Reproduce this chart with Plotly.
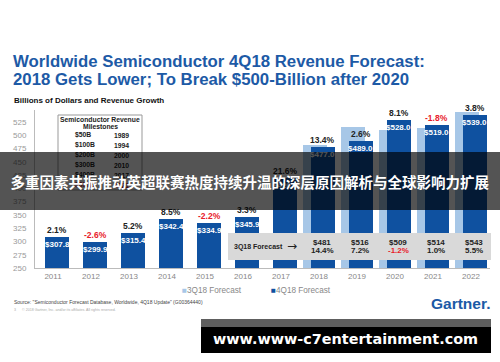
import plotly.graph_objects as go

years = [2011, 2012, 2013, 2014, 2015, 2016, 2017, 2018, 2019, 2020, 2021, 2022]
rev_4q18 = [307.8, 299.9, 315.4, 342.4, 334.9, 345.9, 420.4, 477.0, 489.0, 528.0, 519.0, 539.0]
growth_4q18 = ["2.1%", "-2.6%", "5.2%", "8.5%", "-2.2%", "3.3%", "21.6%", "13.4%", "2.6%", "8.1%", "-1.8%", "3.8%"]
years_3q18 = [2018, 2019, 2020, 2021, 2022]
rev_3q18 = [481, 516, 509, 514, 543]
growth_3q18 = ["14.4%", "7.2%", "-1.2%", "1.0%", "5.5%"]
milestones = [("$50B", "1989"), ("$100B", "1994"), ("$200B", "2000"), ("$300B", "2010"), ("$400B", "2017"), ("$500B", "2021")]
yticks = [250, 275, 300, 325, 350, 375, 400, 425, 450, 475, 500, 525]

DARK = "#0f51a0"
LIGHT = "#a7c7e7"
RED = "#e8202a"
TBLUE = "#1d5aa6"
FONT = "Liberation Sans, Arial, sans-serif"

W, H = 500, 362
L, R, T, B = 35, 490, 110, 268

def xp(px):
    return (px - L) / (R - L)

def yp(py):
    return (B - py) / (B - T)

def text_at(px, py, text, size, color, xanchor="center", bold=True, family=FONT, **kw):
    d = dict(x=xp(px), y=yp(py), xref="paper", yref="paper", xanchor=xanchor, yanchor="middle",
             showarrow=False, text=text,
             font=dict(family=family, size=size, color=color, weight="bold" if bold else "normal"))
    d.update(kw)
    return d

fig = go.Figure()
fig.add_trace(go.Bar(x=years_3q18, y=rev_3q18, base=0, offset=-0.42, width=0.63,
                     marker=dict(color=LIGHT, line=dict(width=0)), showlegend=False, hoverinfo="skip"))
fig.add_trace(go.Bar(x=years, y=rev_4q18, offset=-0.21, width=0.63,
                     marker=dict(color=DARK, line=dict(width=0)), showlegend=False, hoverinfo="skip"))

ann = []
shapes = []

# value + growth labels
for yr, v, g in zip(years, rev_4q18, growth_4q18):
    ann.append(dict(x=yr + 0.105, y=v, xref="x", yref="y", xanchor="center", yanchor="middle",
                    text="$%.1f" % v, showarrow=False,
                    yshift=-7.5, font=dict(family=FONT, size=8, color="white", weight="bold")))
    ann.append(dict(x=yr + 0.105, y=v, xref="x", yref="y", xanchor="center", yanchor="middle",
                    text=g, showarrow=False,
                    yshift=7, font=dict(family=FONT, size=8.5,
                                        color=RED if g.startswith("-") else "#222", weight="bold")))

# milestones box
shapes.append(dict(type="rect", xref="paper", yref="paper", x0=xp(58), x1=xp(142), y0=yp(190), y1=yp(115),
                   fillcolor="white", line=dict(color="#999", width=1), layer="above"))
for j, line in enumerate(["Semiconductor Revenue", "Milestones"]):
    ann.append(text_at(100, 119.5 + 7 * j, line, 6.8, "#222"))
for i, (a, b) in enumerate(milestones):
    col = "#222" if i < 5 else "#c0202a"
    ann.append(text_at(73, 135 + 10 * i, a, 6.8, col, xanchor="left"))
    ann.append(text_at(112, 135 + 10 * i, b, 6.8, col, xanchor="left"))

# 3Q18 forecast box
shapes.append(dict(type="rect", xref="paper", yref="paper", x0=xp(228), x1=xp(491), y0=yp(260), y1=yp(233),
                   fillcolor="#d9d9d9", line=dict(width=0), layer="above"))
ann.append(text_at(232, 246.5, "3Q18 Forecast", 7, "#222", xanchor="left"))
ann.append(text_at(291.5, 246, "\u2192", 12, "#222", bold=False, family="DejaVu Sans, sans-serif"))
for yr, v, g in zip(years_3q18, rev_3q18, growth_3q18):
    gc = RED if g.startswith("-") else "#222"
    ann.append(dict(x=yr + 0.08, y=yp(242.5), xref="x", yref="paper", xanchor="center", yanchor="middle",
                    showarrow=False, text="$%d" % v,
                    font=dict(family=FONT, size=8, color="#222", weight="bold")))
    ann.append(dict(x=yr + 0.08, y=yp(250.5), xref="x", yref="paper", xanchor="center", yanchor="middle",
                    showarrow=False, text=g,
                    font=dict(family=FONT, size=8, color=gc, weight="bold")))

# title and subtitle
for j, line in enumerate(["Worldwide Semiconductor 4Q18 Revenue Forecast:",
                          "2018 Gets Lower; To Break $500-Billion after 2020"]):
    ann.append(text_at(11, 62 + 17 * j, line, 16.8, TBLUE, xanchor="left"))
ann.append(text_at(12, 101, "Billions of Dollars and Revenue Growth", 8, "#111", xanchor="left"))

# legend
ann.append(text_at(180, 290, "<span style='color:%s'>\u25a0</span>3Q18 Forecast" % LIGHT, 8.2, "#888",
                   xanchor="left", bold=False))
ann.append(text_at(269, 290, "<span style='color:%s'>\u25a0</span>4Q18 Forecast" % DARK, 8.2, "#888",
                   xanchor="left", bold=False))

# source / copyright
ann.append(text_at(12, 302, 'Source: "Semiconductor Forecast Database, Worldwide, 4Q18 Update" (G00364440)',
                   5, "#444", xanchor="left", bold=False))
ann.append(text_at(12, 309.5, "3      \u00a9 2018 Gartner, Inc. and/or its affiliates. All rights reserved.",
                   3.6, "#aaa", xanchor="left", bold=False))

# Gartner logo
ann.append(text_at(492, 303, "Gartner.", 15.5, "#1b5aa6", xanchor="right"))

# watermark box
shapes.append(dict(type="rect", xref="paper", yref="paper", x0=xp(201), x1=xp(491), y0=yp(327), y1=yp(319),
                   fillcolor="#5e5e5e", line=dict(width=0), layer="above"))
shapes.append(dict(type="rect", xref="paper", yref="paper", x0=xp(201), x1=xp(491), y0=yp(353), y1=yp(327),
                   fillcolor="black", line=dict(width=0), layer="above"))
ann.append(text_at(345, 338.5, "www.www-c7entertainment.com", 14.4, "white",
                   family="DejaVu Sans, Verdana, sans-serif"))

# translucent banner on top
ann.append(text_at(250, 181, "多重因素共振推动英超联赛热度持续升温的深层原因解析与全球影响力扩展", 14.5, "white",
                   family="Noto Sans CJK SC, sans-serif",
                   width=500, height=58, borderpad=0, borderwidth=0, bgcolor="rgba(0,0,0,0.67)"))

fig.update_layout(
    template="none",
    width=W, height=H,
    margin=dict(l=L, r=W - R, t=T, b=H - B, pad=0, autoexpand=False),
    paper_bgcolor="white", plot_bgcolor="white",
    barmode="overlay", bargap=0,
    font=dict(family=FONT),
    xaxis=dict(range=[2010.526, 2022.5], tickmode="array", tickvals=years, ticktext=[str(y) for y in years],
               showgrid=False, zeroline=False, showline=True, linecolor="#bbb", linewidth=1, automargin=False,
               ticks="", tickfont=dict(size=8, color="#888"), fixedrange=True),
    yaxis=dict(range=[250, 250 + (B - T) / 0.531], tickmode="array", tickvals=yticks,
               showgrid=False, zeroline=False, showline=True, linecolor="#bbb", linewidth=1, automargin=False,
               ticks="", tickfont=dict(size=8, color="#999"), ticklabelstandoff=6, fixedrange=True),
    annotations=ann, shapes=shapes, showlegend=False,
)

fig.write_html("out.html", config={"displayModeBar": False, "staticPlot": True},
               post_script="document.body.style.margin='0';document.body.style.overflow='hidden';")
